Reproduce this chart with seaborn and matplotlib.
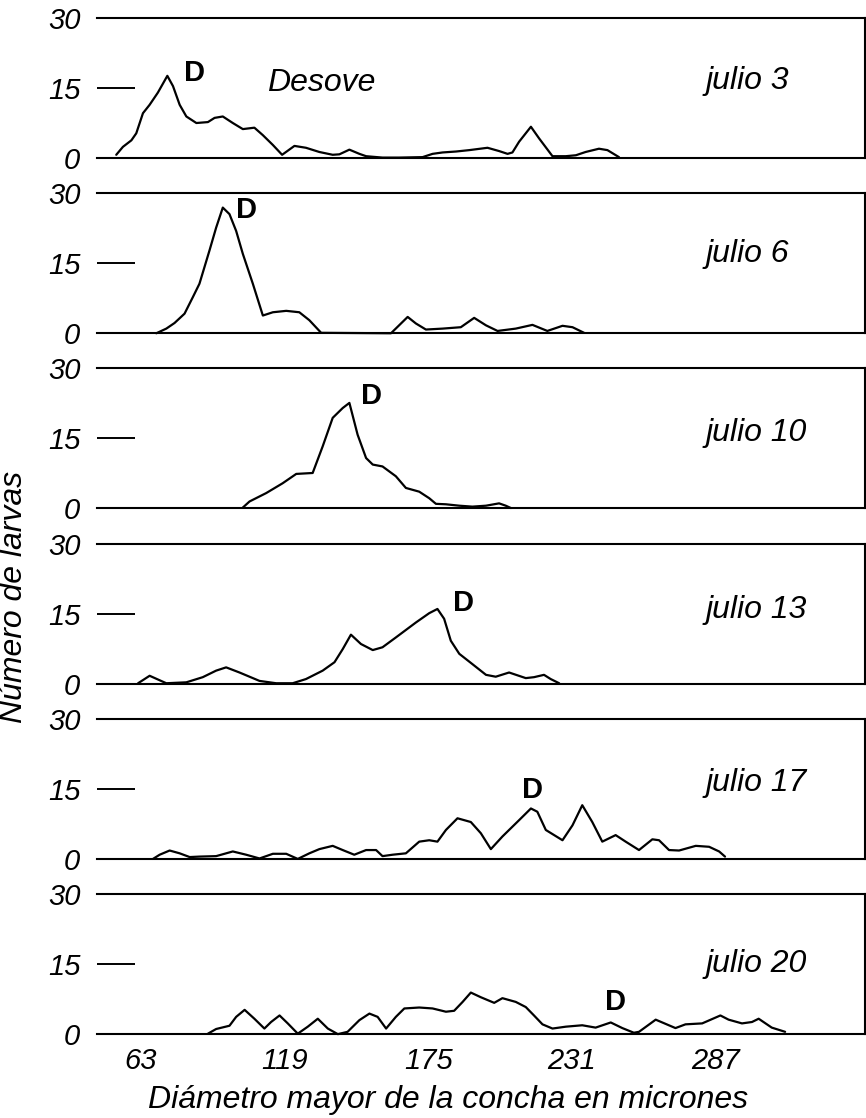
import numpy as np
import pandas as pd
import matplotlib
matplotlib.use("Agg")
from matplotlib import pyplot as plt
import seaborn as sns

# Curvas de frecuencia de tallas
fechas = ['julio 3', 'julio 6', 'julio 10', 'julio 13', 'julio 17', 'julio 20']

x_jul3 = [53.5, 56.1, 59.4, 61.3, 63.9, 66.5, 69.7, 73.4, 75.6, 78.2, 80.8, 84.7, 89.2,
          91.8, 95.0, 98.9, 102.8, 107.3, 110.6, 114.5, 118.1, 122.9, 127.4, 132.6, 137.8,
          140.4, 144.3, 148.2, 150.8, 157.2, 163.7, 172.8, 176.7, 180.6, 185.8, 191.0,
          198.1, 202.6, 205.9, 207.8, 210.4, 215.0, 218.2, 223.4, 228.6, 232.5, 236.3,
          241.5, 244.8, 249.3]
y_jul3 = [0.7, 2.4, 3.8, 5.3, 9.6, 11.4, 14.0, 17.6, 15.4, 11.4, 8.9, 7.5, 7.7,
          8.6, 8.9, 7.5, 6.2, 6.5, 4.9, 2.8, 0.7, 2.6, 2.2, 1.3, 0.7,
          0.8, 1.8, 0.9, 0.4, 0.1, 0.1, 0.2, 0.9, 1.2, 1.4, 1.7,
          2.2, 1.5, 0.9, 1.2, 3.5, 6.7, 4.2, 0.4, 0.4, 0.6, 1.3,
          2.0, 1.7, 0.2]

x_jul6 = [69.1, 73.0, 76.2, 80.1, 83.3, 85.9, 89.8, 92.4, 95.0, 97.6, 100.2, 102.8,
          106.7, 110.6, 114.5, 119.7, 124.8, 128.7, 133.3, 160.5, 167.0, 170.2, 174.1,
          180.6, 187.7, 192.9, 197.5, 202.0, 209.1, 215.6, 221.4, 227.3, 231.2, 235.7]
y_jul6 = [0.0, 1.0, 2.2, 4.2, 7.7, 10.6, 17.7, 22.6, 26.9, 25.5, 21.9, 17.0,
          10.6, 3.8, 4.5, 4.8, 4.5, 2.8, 0.1, 0.0, 3.5, 2.1, 0.8,
          1.0, 1.3, 3.3, 1.7, 0.5, 1.0, 1.8, 0.5, 1.6, 1.3, 0.1]

x_jul10 = [102.8, 105.4, 111.9, 118.3, 123.6, 130.0, 133.9, 137.8, 141.7, 144.3,
           147.5, 150.8, 153.4, 157.2, 162.4, 166.3, 171.5, 175.4, 178.0, 181.9,
           187.1, 192.2, 197.5, 202.6, 205.2, 207.2]
y_jul10 = [0.2, 1.5, 3.3, 5.4, 7.4, 7.6, 13.3, 19.4, 21.5, 22.6,
           15.8, 10.8, 9.4, 9.0, 6.9, 4.4, 3.6, 2.2, 1.0, 0.9,
           0.6, 0.4, 0.6, 1.1, 0.6, 0.1]

x_jul13 = [62.0, 66.5, 73.0, 80.8, 87.2, 92.4, 96.3, 101.5, 109.3, 115.8, 122.2, 127.4,
           133.9, 138.5, 141.7, 144.9, 148.8, 153.4, 157.2, 162.4, 170.2, 175.4, 178.6,
           181.2, 183.8, 187.1, 192.2, 197.5, 201.3, 206.5, 213.0, 216.2, 220.1, 222.7,
           226.0]
y_jul13 = [0.1, 1.7, 0.1, 0.3, 1.4, 2.8, 3.5, 2.4, 0.6, 0.1, 0.1, 1.0,
           2.8, 4.6, 7.4, 10.5, 8.5, 7.2, 7.8, 9.9, 13.1, 15.1, 16.0,
           13.9, 9.2, 6.4, 4.2, 1.9, 1.5, 2.4, 1.2, 1.4, 1.9, 1.0,
           0.1]

x_jul17 = [67.8, 70.4, 74.3, 78.2, 82.1, 85.9, 92.4, 98.9, 104.1, 109.3, 114.5, 119.7,
           124.2, 128.7, 132.6, 137.8, 141.7, 146.2, 150.8, 154.7, 157.2, 161.1, 166.3,
           171.5, 175.4, 178.6, 181.9, 186.4, 191.6, 195.5, 199.4, 203.9, 210.4, 215.0,
           217.5, 220.8, 227.3, 231.2, 235.0, 238.9, 242.8, 248.0, 251.9, 257.1, 262.3,
           264.9, 268.8, 272.7, 279.2, 284.4, 288.3, 290.6]
y_jul17 = [0.0, 0.9, 1.8, 1.2, 0.4, 0.5, 0.6, 1.6, 0.9, 0.1, 1.1, 1.1,
           0.0, 1.2, 2.1, 2.8, 1.9, 0.9, 1.9, 1.9, 0.6, 0.9, 1.2,
           3.7, 4.0, 3.7, 6.2, 8.7, 7.9, 5.5, 2.1, 4.8, 8.3, 10.8,
           10.1, 6.2, 4.0, 7.2, 11.5, 7.9, 3.7, 5.1, 3.7, 1.9, 4.2,
           4.0, 1.9, 1.8, 2.8, 2.6, 1.6, 0.5]

x_jul20 = [89.2, 92.4, 97.6, 100.2, 103.5, 107.3, 111.2, 113.8, 117.1, 120.3, 124.2,
           128.1, 132.0, 135.9, 139.8, 143.6, 148.2, 152.1, 155.3, 158.6, 162.4, 165.7,
           171.5, 176.7, 181.9, 185.1, 188.4, 191.6, 195.5, 200.7, 203.9, 209.1, 213.0,
           216.2, 219.5, 223.4, 228.6, 235.0, 240.2, 246.1, 250.6, 255.1, 257.1, 263.6,
           271.3, 275.2, 281.7, 288.8, 292.0, 297.2, 301.1, 303.7, 308.8, 314.0]
y_jul20 = [0.1, 1.1, 1.8, 3.7, 5.2, 3.3, 1.2, 2.6, 4.0, 2.3, 0.1,
           1.6, 3.3, 1.2, 0.0, 0.5, 3.0, 4.4, 3.7, 1.2, 3.7, 5.5,
           5.7, 5.5, 4.8, 5.0, 6.9, 8.9, 7.9, 6.7, 7.7, 6.9, 5.8,
           4.0, 2.1, 1.2, 1.6, 1.9, 1.4, 2.5, 1.3, 0.3, 0.5, 3.1,
           1.3, 2.1, 2.3, 4.0, 3.1, 2.3, 2.6, 3.3, 1.4, 0.5]

# Marca "D" (larva D) en cada fecha
d_x = [84.0, 104.2, 152.8, 188.6, 215.5, 247.8]
d_y = [18.3, 26.4, 24.0, 17.3, 14.7, 6.8]
fecha_y = [16.5, 17.0, 16.1, 15.8, 16.2, 15.1]

x_ticks = [63, 119, 175, 231, 287]
y_ticks = [0, 15, 30]

curvas = [(x_jul3, y_jul3), (x_jul6, y_jul6), (x_jul10, y_jul10),
          (x_jul13, y_jul13), (x_jul17, y_jul17), (x_jul20, y_jul20)]
df = pd.concat([pd.DataFrame({'fecha': f, 'diametro': xs, 'larvas': ys})
                for f, (xs, ys) in zip(fechas, curvas)], ignore_index=True)

sns.set_style("white")
plt.rcParams['font.family'] = ['Liberation Sans', 'DejaVu Sans']
plt.rcParams['font.style'] = 'italic'
plt.rcParams['text.color'] = 'black'
plt.rcParams['xtick.color'] = 'black'
plt.rcParams['ytick.color'] = 'black'

fig, axes = plt.subplots(6, 1, figsize=(8.66, 11.18), dpi=100, sharex=True)
fig.subplots_adjust(left=0.112, right=0.9985, top=0.984, bottom=0.075, hspace=0.25)

for i, (ax, fecha) in enumerate(zip(axes, fechas)):
    sub = df[df['fecha'] == fecha]
    sns.lineplot(data=sub, x='diametro', y='larvas', ax=ax, color='black',
                 linewidth=1.6, estimator=None, sort=False)
    for line in ax.lines:
        line.set_clip_on(False)
    ax.set_xlim(46, 345)
    ax.set_ylim(0, 30)
    ax.set_yticks(y_ticks)
    ax.set_yticklabels([str(t) for t in y_ticks])
    ax.tick_params(axis='y', left=True, direction='in', length=27, width=1.4, pad=12,
                   labelsize=21, color='black', labelcolor='black')
    ax.tick_params(axis='x', bottom=False, length=0, pad=9, labelsize=21,
                   labelcolor='black')
    ax.spines['left'].set_visible(False)
    for s in ['top', 'bottom', 'right']:
        ax.spines[s].set_linewidth(1.5)
        ax.spines[s].set_color('black')
    ax.set_xlabel('')
    ax.set_ylabel('')
    ax.text(d_x[i], d_y[i], 'D', fontsize=21, fontweight='bold', fontstyle='normal',
            ha='center', va='center')
    ax.text(283, fecha_y[i], fecha, fontsize=23, ha='left', va='center')

axes[0].text(112.4, 16.1, 'Desove', fontsize=23, ha='left', va='center')

axes[-1].set_xticks(x_ticks)
axes[-1].set_xticklabels([str(t) for t in x_ticks])

fig.text(0.016, 0.466, 'Número de larvas', rotation=90, fontsize=23,
         ha='center', va='center')
fig.text(0.517, 0.016, 'Diámetro mayor de la concha en micrones', fontsize=23,
         ha='center', va='center')

fig.savefig('out.png', dpi=100)
